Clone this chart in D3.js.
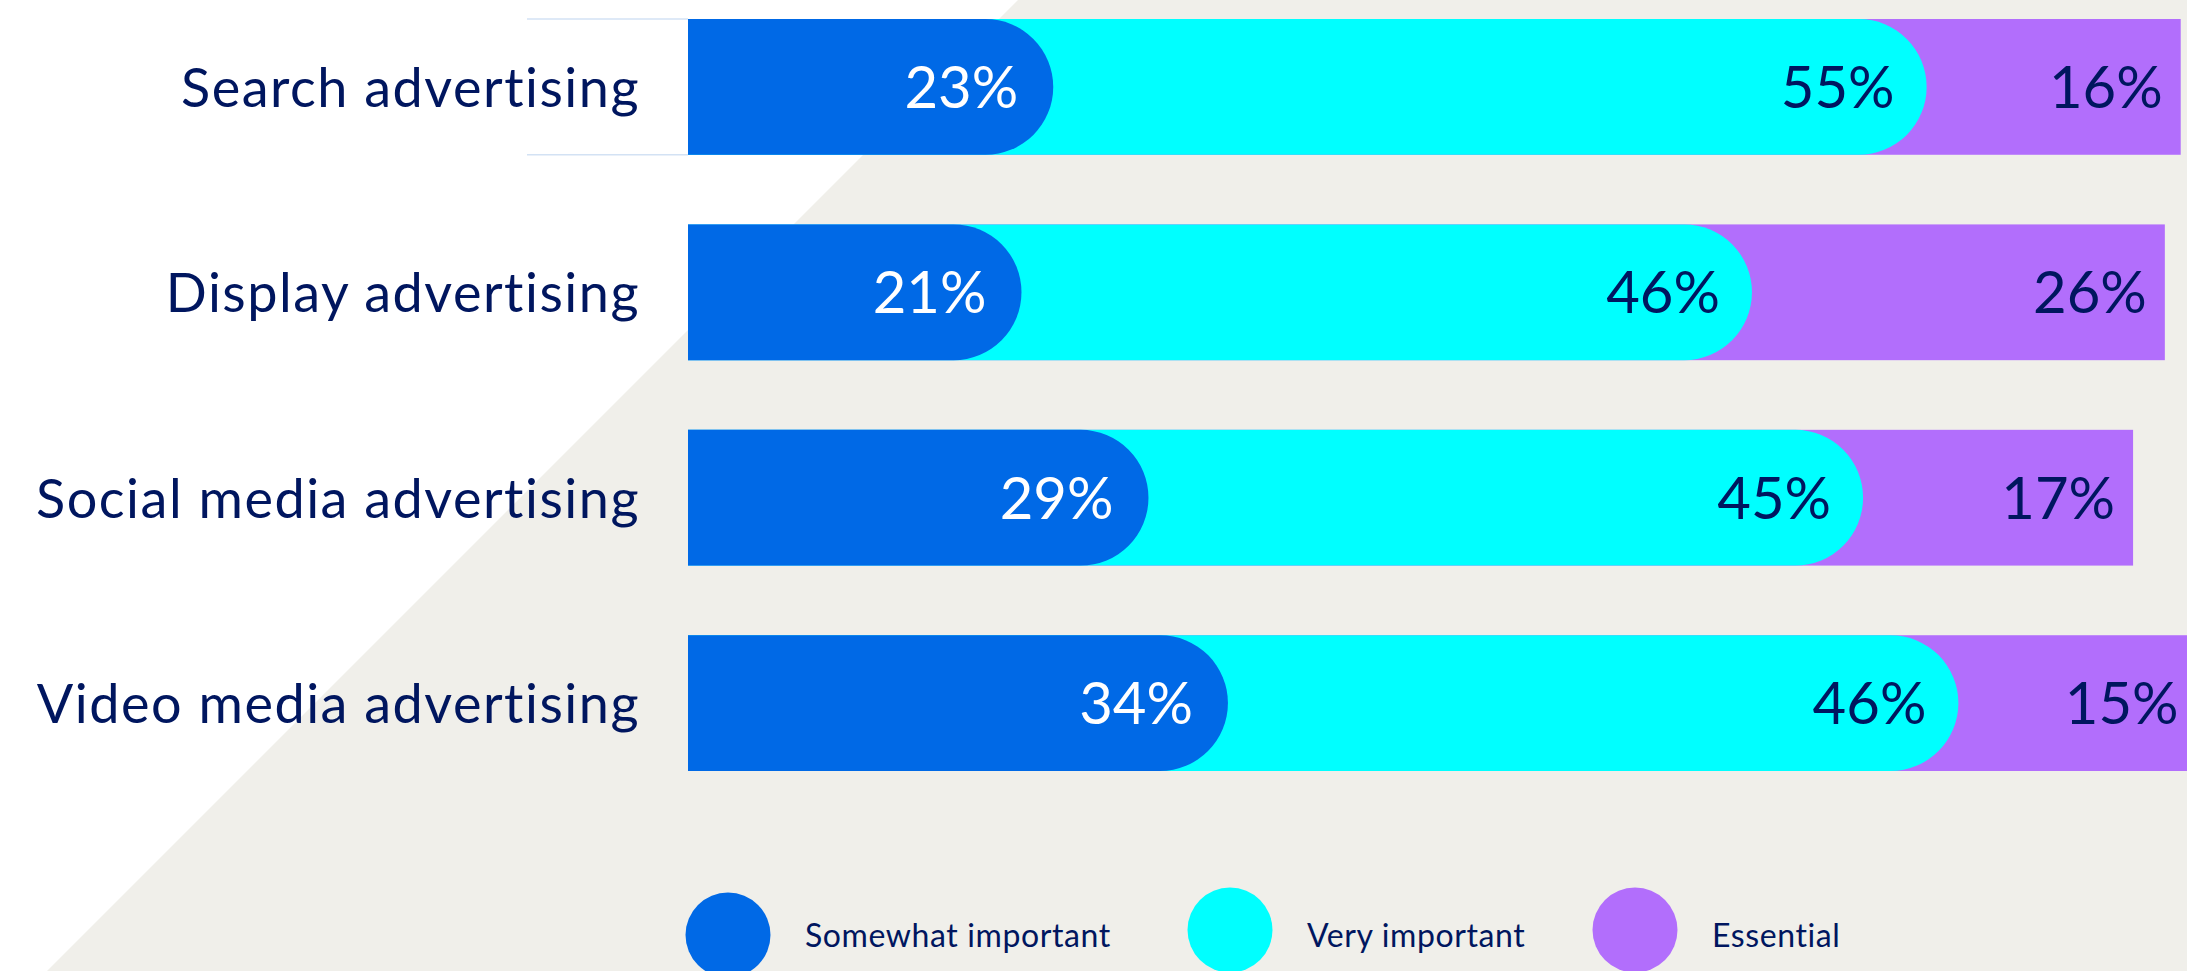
<!DOCTYPE html>
<html>
<head>
<meta charset="utf-8">
<script src="https://cdnjs.cloudflare.com/ajax/libs/d3/7.8.5/d3.min.js"></script>
<style>
  html, body { margin: 0; padding: 0; background: #ffffff; overflow: hidden; }
  #chart { width: 2187px; height: 971px; }
  text { font-family: Lato, "Noto Sans", sans-serif; }
</style>
</head>
<body>
<div id="chart" class="chart"></div>
<script>
// chart data
var categories = ["Search advertising", "Display advertising", "Social media advertising", "Video media advertising"];
var seriesNames = ["Somewhat important", "Very important", "Essential"];
var somewhat = [23, 21, 29, 34];
var very = [55, 46, 45, 46];
var essential = [16, 26, 17, 15];

var colors = ["#0069e6", "#00ffff", "#b26efc"];
var labelColors = ["#ffffff", "#00165f", "#00165f"];
var navy = "#00165f";

var w = 2187;
var h = 971;

var svg = d3.select(".chart")
            .append("svg")
            .attr("width", w)
            .attr("height", h);

//background with the diagonal beige panel
svg.append("rect")
   .attr("width", w)
   .attr("height", h)
   .attr("fill", "#ffffff");

svg.append("polygon")
   .attr("points", "1018,0 " + w + ",0 " + w + "," + h + " 47," + h)
   .attr("fill", "#f0efea");

//scales
var xScale = d3.scaleLinear()
               .domain([0, 100])
               .range([688, 688 + 1588]);

var yScale = d3.scaleBand()
               .domain(categories)
               .range([19, 771])
               .paddingInner(0.339)
               .paddingOuter(0);

var bh = yScale.bandwidth();
var r = bh / 2;

//stack the three series per category
var rows = categories.map(function(c, i) {
  return { cat: c, vals: [somewhat[i], very[i], essential[i]] };
});

//thin guide lines next to the first bar
var first = yScale(categories[0]);
[first, first + bh].forEach(function(y) {
  svg.append("line")
     .attr("x1", 527)
     .attr("x2", xScale(0))
     .attr("y1", y)
     .attr("y2", y)
     .attr("stroke", "#d3e2f4")
     .attr("stroke-width", 1.5);
});

//path with a rounded right end
function capPath(x0, x1, y) {
  var xe = Math.max(x0, x1 - r);
  return "M" + x0 + "," + y +
         "H" + xe +
         "A" + r + "," + r + " 0 0 1 " + xe + "," + (y + bh) +
         "H" + x0 + "Z";
}

var groups = svg.selectAll(".bar")
                .data(rows)
                .enter()
                .append("g")
                .attr("class", "bar");

groups.each(function(d) {
  var g = d3.select(this);
  var y = yScale(d.cat);
  var c1 = d.vals[0];
  var c2 = c1 + d.vals[1];
  var c3 = c2 + d.vals[2];

  //essential goes at the back as a plain rect
  g.append("rect")
   .attr("x", xScale(0))
   .attr("y", y)
   .attr("width", xScale(c3) - xScale(0))
   .attr("height", bh)
   .attr("fill", colors[2]);

  g.append("path")
   .attr("d", capPath(xScale(0), xScale(c2), y))
   .attr("fill", colors[1]);

  g.append("path")
   .attr("d", capPath(xScale(0), xScale(c1), y))
   .attr("fill", colors[0]);

  //value labels
  var ends = [c1, c2, c3];
  var pads = [35, 32, 18];
  d.vals.forEach(function(v, k) {
    g.append("text")
     .attr("x", xScale(ends[k]) - pads[k])
     .attr("y", y + bh / 2 + 21)
     .attr("text-anchor", "end")
     .attr("font-size", 58)
     .attr("fill", labelColors[k])
     .text(v + "%");
  });

  //category label
  g.append("text")
   .attr("x", 640)
   .attr("y", y + bh / 2 + 20)
   .attr("text-anchor", "end")
   .attr("font-size", 54)
   .attr("letter-spacing", 1.5)
   .attr("fill", navy)
   .text(d.cat);
});

//legend
var legendX = [728, 1230, 1635];
var legendY = [935, 930, 930];

var legend = svg.selectAll(".legend")
                .data(seriesNames)
                .enter()
                .append("g")
                .attr("class", "legend");

legend.append("circle")
      .attr("cx", function(d, i) { return legendX[i]; })
      .attr("cy", function(d, i) { return legendY[i]; })
      .attr("r", 42.5)
      .attr("fill", function(d, i) { return colors[i]; });

legend.append("text")
      .attr("x", function(d, i) { return legendX[i] + 77; })
      .attr("y", 947)
      .attr("font-size", 32)
      .attr("letter-spacing", 0.6)
      .attr("fill", navy)
      .text(function(d) { return d; });
</script>
</body>
</html>
